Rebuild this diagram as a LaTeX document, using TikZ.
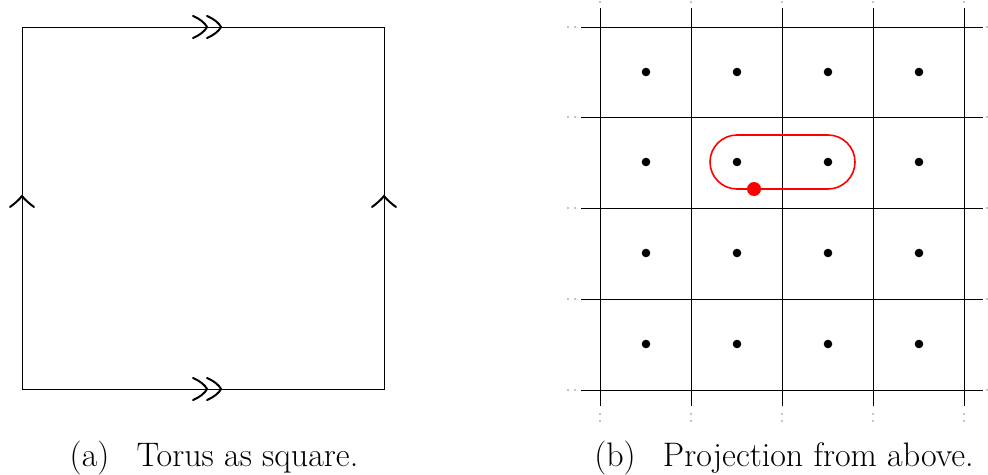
\documentclass[tikz,border=0pt]{standalone}
\usepackage{fontspec}
\begin{document}
\begin{tikzpicture}[x=1pt,y=-1pt, line width=0.9pt,
  chevR/.pic={\draw[line width=2pt, line cap=round] (-14,-11) .. controls (-7,-8) and (-2,-4) .. (0,0) .. controls (-2,4) and (-7,8) .. (-14,11);},
  chevU/.pic={\draw[line width=2pt, line cap=round] (-12,10) .. controls (-8,7) and (-3,3) .. (0,-1) .. controls (3,3) and (8,7) .. (12,10);},
  gridline/.style={line width=1pt},
  lattice/.style={fill=black},
  loopline/.style={draw=red, line width=1.6pt, rounded corners=27pt},
  captext/.style={font=\fontsize{34}{40}\selectfont, anchor=base}]
\useasboundingbox (0,0) rectangle (988,474);
% (a) square
\coordinate (A) at (22,27);
\coordinate (B) at (384,27);
\coordinate (C) at (384,389);
\coordinate (D) at (22,389);
\draw (A) -- (B) -- (C) -- (D) -- cycle;
\pic at (207,27) {chevR};
\pic at (221,27) {chevR};
\pic at (207,389) {chevR};
\pic at (221,389) {chevR};
\pic at (22,197) {chevU};
\pic at (384,197) {chevU};
% (b) grid
\foreach \x in {600,691,782,873,964} {
  \draw[gridline] (\x,8) -- (\x,406);
  \fill (\x,2) circle (0.6);
  \fill (\x,414) circle (0.6);
  \fill (\x,421) circle (0.6);
}
\foreach \y in {27,117,208,299,390} {
  \draw[gridline] (581,\y) -- (983,\y);
  \fill (568,\y) circle (0.6);
  \fill (575,\y) circle (0.6);
  \fill (987,\y) circle (0.6);
}
\foreach \x in {646,737,828,919} {
  \foreach \y in {72,162,253,344} {
    \fill[lattice] (\x,\y) circle (4.3);
  }
}
\draw[loopline] (710,135) rectangle (855,189);
\fill[red] (754,189) circle (7);
% captions
\node[captext] (capa) at (214,466) {(a)\hskip 0.8em Torus as square.};
\node[captext] (capb) at (784,466) {(b)\hskip 0.8em Projection from above.};
\end{tikzpicture}
\end{document}
